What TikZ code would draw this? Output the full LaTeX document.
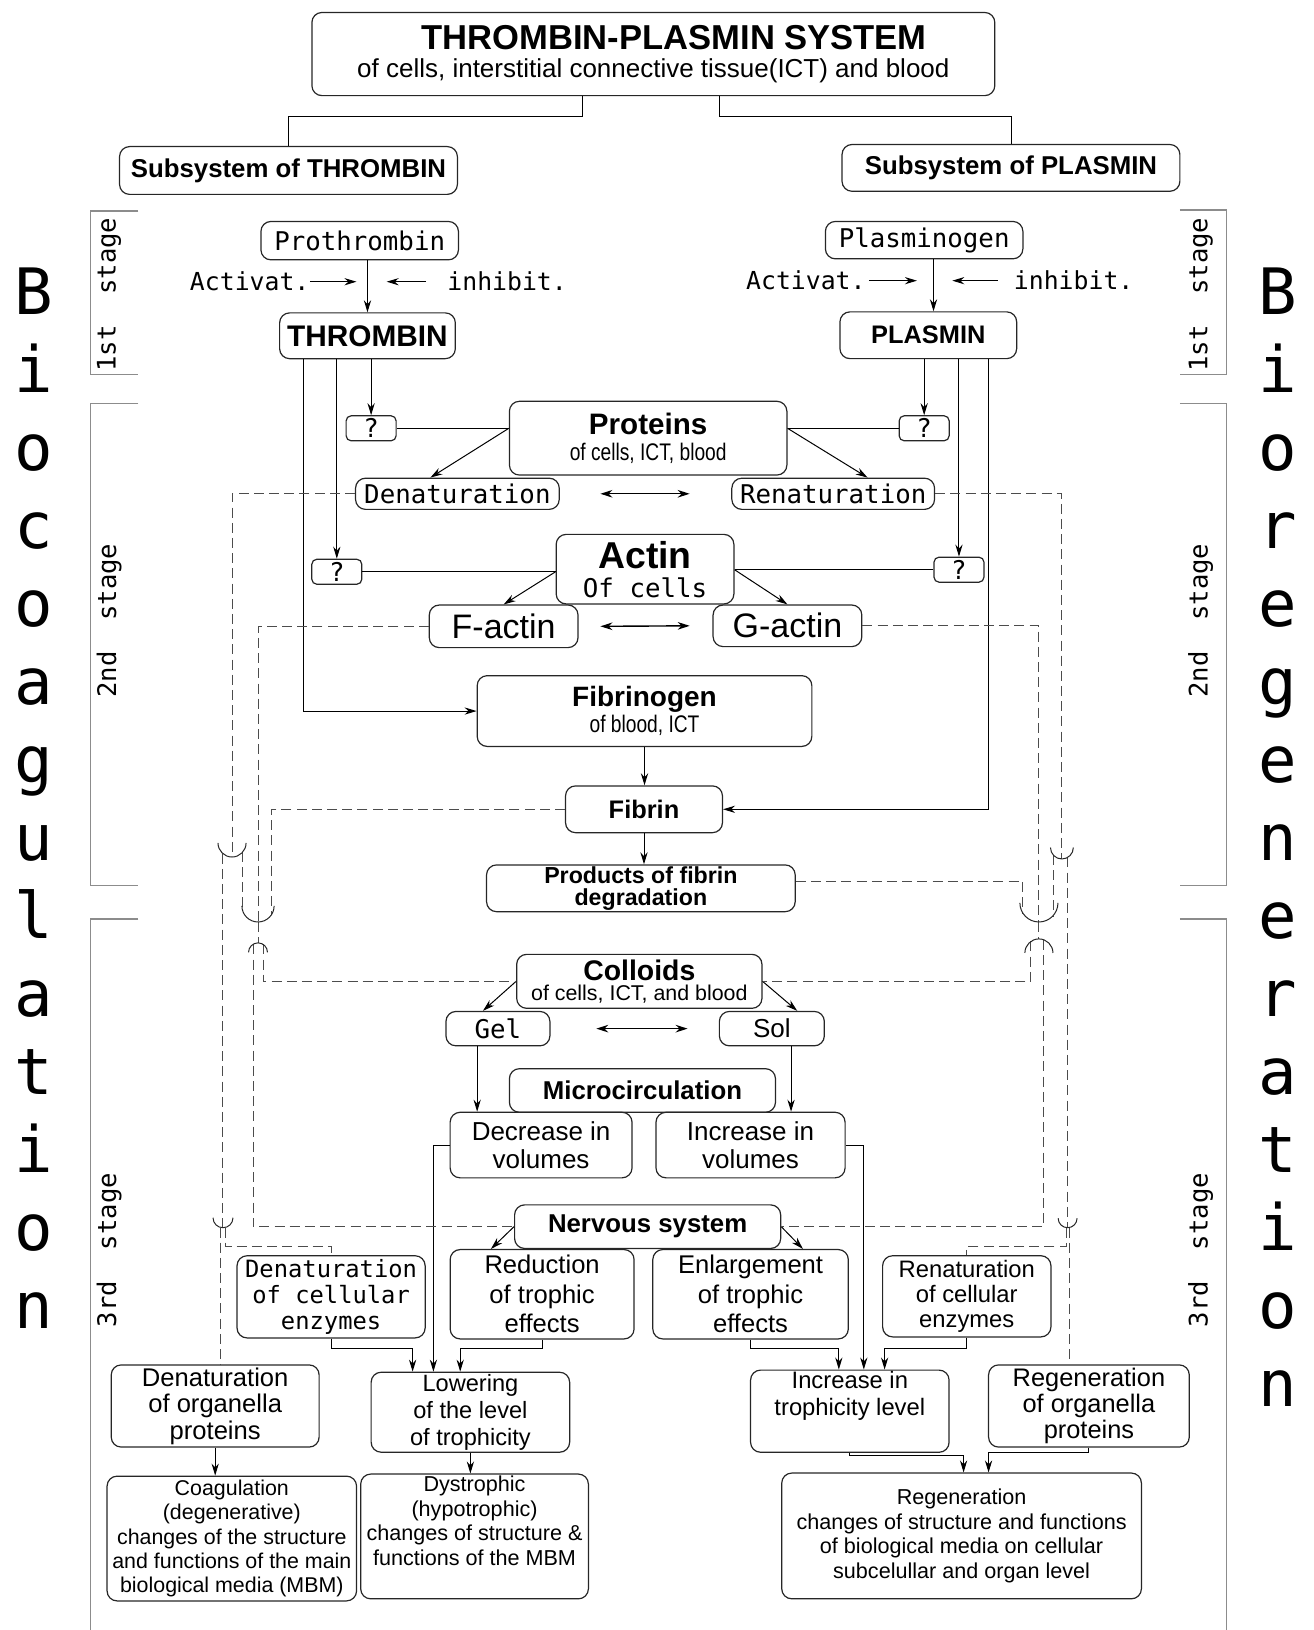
\documentclass[tikz,border=0pt]{standalone}
\usepackage{fontspec}
\setmainfont{Liberation Sans}
\newfontfamily\monofont{DejaVu Sans Mono}
\newfontfamily\narrowfont[FakeStretch=0.8]{Liberation Sans}
\usepackage{xcolor}
\usetikzlibrary{arrows.meta,calc}
\newcommand{\setfs}[2]{\fontsize{#1}{#2}\selectfont}

\begin{document}
\begin{tikzpicture}[x=0.52pt,y=-0.52pt]
  \tikzset{
    box/.style={
      draw=black!85,
      line width=0.6pt,
      rounded corners=5pt,
      align=center,
      inner sep=0pt,
    },
    qbox/.style={box, rounded corners=2.5pt, minimum width=25pt, minimum height=12.5pt,
      font=\monofont\setfs{12.9}{14}},
    sz/.style 2 args={minimum width=#1, minimum height=#2},
    mono/.style={font=\monofont\setfs{12.9}{14}, inner sep=0pt},
    arr/.style={-{Stealth[length=6pt,width=3.6pt]}, line width=0.5pt},
    dbl/.style={{Stealth[length=6pt,width=3.8pt]}-{Stealth[length=6pt,width=3.8pt]}, line width=0.7pt},
    dashline/.style={draw=black!70, line width=0.5pt, dash pattern=on 5pt off 2.6pt},
    cup/.style={draw=black!85, line width=0.5pt},
    bracket/.style={draw=black!45, line width=0.6pt},
    stagetext/.style={font=\monofont\setfs{12.8}{14}, rotate=90, inner sep=0pt},
    bigletter/.style={font=\monofont\setfs{32}{32}, anchor=base, inner sep=0pt},
  }

  \useasboundingbox (0,0) rectangle (1264,1568);

  % head of the scheme
  \node[box, sz={341.6pt}{41.6pt}, font=\setfs{13}{14}] (sys) at (628.5,52)
    {\hspace*{20.8pt}{\bfseries\setfs{17.3}{18}THROMBIN-PLASMIN SYSTEM}\\of cells, interstitial connective tissue(ICT) and blood};
  \node[box, sz={169pt}{23.9pt}, font=\bfseries\setfs{12.9}{14}] (subT) at (277.5,164) {Subsystem of THROMBIN};
  \node[box, sz={169pt}{23.4pt}, font=\bfseries\setfs{12.9}{14}] (subP) at (972.5,161.5) {Subsystem of PLASMIN};
  \draw ([xshift=-35.6pt]sys.south) -- ++(0,19) -| (subT.north);
  \draw ([xshift=33pt]sys.south) -- ++(0,19) -| (subP.north);

  % 1st stage
  \node[box, mono, sz={98.8pt}{19.2pt}] (proT) at (346,231.5) {Prothrombin};
  \node[box, sz={87.9pt}{22.9pt}, font=\bfseries\setfs{14.9}{16}] (thr) at (353.5,323) {THROMBIN};
  \node[mono, font=\monofont\setfs{12.4}{14}, anchor=east] (actT) at (298,271) {Activat.};
  \node[mono, font=\monofont\setfs{12.4}{14}, anchor=west] (inhT) at (430,271) {inhibit.};
  \draw[arr] (thr.north |- proT.south) -- (thr.north);
  \draw[arr] (actT.east) -- ([xshift=-5.5pt]thr.north |- actT.east);
  \draw[arr] ([xshift=-10.4pt]inhT.west) -- ([xshift=9.6pt]thr.north |- inhT.west);

  \node[box, mono, sz={98.8pt}{18.7pt}] (plg) at (889,231) {Plasminogen};
  \node[box, sz={88.4pt}{23.4pt}, font=\bfseries\setfs{12.7}{14}] (pla) at (893,322.5) {PLASMIN};
  \node[mono, font=\monofont\setfs{12.4}{14}, anchor=east] (actP) at (833,270) {Activat.};
  \node[mono, font=\monofont\setfs{12.4}{14}, anchor=west] (inhP) at (975,270) {inhibit.};
  \draw[arr] ([xshift=2.6pt]pla.north |- plg.south) -- ([xshift=2.6pt]pla.north);
  \draw[arr] ([xshift=1.5pt]actP.east) -- ([xshift=-5.7pt]pla.north |- actP.east);
  \draw[arr] ([xshift=-7.8pt]inhP.west) -- ([xshift=12pt]pla.north |- inhP.west);

  % 2nd stage
  \node[qbox] (q1) at (357,412) {?};
  \node[qbox] (q2) at (889,412) {?};
  \node[box, sz={138.8pt}{36.9pt}, font=\narrowfont\setfs{12}{13}] (prot) at (623.5,421.5)
    {{\rmfamily\bfseries\setfs{14.8}{15}Proteins}\\of cells, ICT, blood};
  \node[box, mono, sz={101.9pt}{15.6pt}] (den) at (440,475) {Denaturation};
  \node[box, mono, sz={101.4pt}{15.6pt}] (ren) at (801.5,475) {Renaturation};
  \node[qbox] (q3) at (324,550) {?};
  \node[qbox] (q4) at (922.5,548) {?};
  \node[box, mono, sz={88.9pt}{34.8pt}, font=\monofont\setfs{12.9}{14.5}] (act) at (620.5,547.5)
    {{\rmfamily\bfseries\setfs{18.7}{19}Actin}\\Of cells};
  \node[box, sz={74.4pt}{21.3pt}, font=\setfs{17}{18}] (fact) at (484.5,602.5) {F-actin};
  \node[box, sz={74.4pt}{20.8pt}, font=\setfs{17}{18}] (gact) at (757.5,602) {G-actin};
  \node[box, sz={167.4pt}{35.4pt}, font=\narrowfont\setfs{12}{13}] (fbg) at (620,684)
    {{\rmfamily\bfseries\setfs{14}{15}Fibrinogen}\\of blood, ICT};
  \node[box, sz={78.5pt}{23.4pt}, font=\bfseries\setfs{12.7}{14}] (fib) at (619.5,778.5) {Fibrin};
  \node[box, sz={154.4pt}{23.4pt}, font=\bfseries\setfs{11.6}{11.2}] (pfd) at (616.5,854.5)
    {Products of fibrin\\degradation};

  \draw[arr] (q1.north |- thr.south) -- (q1.north);
  \draw[arr] (q3.north |- thr.south) -- (q3.north);
  \draw[arr] ([xshift=-32pt]thr.south) |- (fbg.west);
  \draw[arr] (q2.north |- pla.south) -- (q2.north);
  \draw[arr] (q4.north |- pla.south) -- (q4.north);
  \draw[arr] ([xshift=30.2pt]pla.south) |- (fib.east);

  \draw (q1.east) -- (q1.east -| prot.west);
  \draw (q2.west) -- (q2.west -| prot.east);
  \draw[arr] (q1.east -| prot.west) -- ([xshift=-13.5pt]den.north);
  \draw[arr] (q2.west -| prot.east) -- ([xshift=17.2pt]ren.north);
  \draw[dbl] ([xshift=20.3pt]den.east) -- ([xshift=-20.8pt]ren.west);

  \draw (q3.east) -- (q3.east -| act.west);
  \draw (q4.west) -- (q4.west -| act.east);
  \draw[arr] (q3.east -| act.west) -- (fact.north);
  \draw[arr] (q4.west -| act.east) -- (gact.north);
  \draw[dbl] ([xshift=10.9pt]fact.east) -- ([xshift=-11.4pt]gact.west);

  \draw[arr] (fbg.south) -- (fbg.south |- fib.north);
  \draw[arr] (fib.south) -- (fib.south |- pfd.north);

  % 3rd stage
  \node[box, sz={122.7pt}{27pt}, font=\setfs{10.7}{10}] (col) at (615,944)
    {{\bfseries\setfs{14.2}{15}Colloids}\\of cells, ICT, and blood};
  \node[box, mono, sz={52pt}{17.2pt}] (gel) at (479,989.5) {Gel};
  \node[box, sz={52.5pt}{17.2pt}, font=\setfs{13}{14}] (sol) at (742.5,989.5) {Sol};
  \node[box, sz={133.1pt}{21.8pt}, font=\bfseries\setfs{12.9}{14}] (mic) at (618,1049) {Microcirculation};
  \node[box, sz={91pt}{32.8pt}, font=\setfs{13}{14}] (dec) at (520.5,1101.5) {Decrease in\\volumes};
  \node[box, sz={94.6pt}{32.8pt}, font=\setfs{13}{14}] (inc) at (722,1101.5) {Increase in\\volumes};
  \node[box, sz={133.1pt}{21.8pt}, font=\bfseries\setfs{12.9}{14}] (ner) at (623,1180) {Nervous system};
  \node[box, sz={94.1pt}{41.1pt}, font=\monofont\setfs{11.9}{13}] (dce) at (318.5,1247.5)
    {Denaturation\\of cellular\\enzymes};
  \node[box, sz={92pt}{44.7pt}, font=\setfs{12.8}{14.8}] (red) at (521.5,1245) {Reduction\\of trophic\\effects};
  \node[box, sz={97.8pt}{44.7pt}, font=\setfs{12.8}{14.8}] (enl) at (722,1245) {Enlargement\\of trophic\\effects};
  \node[box, sz={84.2pt}{40.6pt}, font=\setfs{11.9}{12.5}] (rce) at (930,1247) {Renaturation\\of cellular\\enzymes};
  \node[box, sz={104pt}{41.1pt}, font=\setfs{12.8}{13.3}] (dop) at (207,1352.5) {Denaturation\\of organella\\proteins};
  \node[box, sz={99.3pt}{40pt}, font=\setfs{11.8}{13.5}] (low) at (452.5,1358.5) {Lowering\\of the level\\of trophicity};
  \node[box, sz={99.3pt}{41.1pt}, font=\setfs{11.9}{13.5}] (itl) at (817.5,1357.5) {Increase in\\trophicity level\\\strut};
  \node[box, sz={100.4pt}{41.1pt}, font=\setfs{12.7}{13}] (rop) at (1047.5,1352.5) {Regeneration\\of organella\\proteins};
  \node[box, sz={124.8pt}{62.4pt}, font=\setfs{10.7}{12.1}] (coa) at (223,1480)
    {Coagulation\\(degenerative)\\changes of the structure\\and functions of the main\\biological media (MBM)};
  \node[box, sz={113.9pt}{62.4pt}, font=\setfs{10.8}{12.2}] (dys) at (456.5,1478)
    {Dystrophic\\(hypotrophic)\\changes of structure \&\\functions of the MBM\\\strut};
  \node[box, sz={179.9pt}{62.9pt}, font=\setfs{10.8}{12.2}] (reg) at (925,1477.5)
    {Regeneration\\changes of structure and functions\\of biological media on cellular\\subcelullar and organ level};

  \draw[arr] (col.west) -- ([xshift=-7.5pt]gel.north);
  \draw[arr] (col.east) -- ([xshift=12.7pt]sol.north);
  \draw[dbl] ([xshift=22.9pt]gel.east) -- ([xshift=-15.6pt]sol.west);
  \draw[arr] ([xshift=-10.4pt]gel.south) -- ([xshift=-10.4pt]gel.south |- dec.north);
  \draw[arr] ([xshift=9.6pt]sol.south) -- ([xshift=9.6pt]sol.south |- inc.north);
  \draw[arr] (dec.west) -| ([xshift=-18.5pt]low.north);
  \draw[arr] (inc.east) -| ([xshift=7pt]itl.north);
  \draw[arr] (ner.west) -- ([xshift=-25.6pt]red.north);
  \draw[arr] (ner.east) -- ([xshift=26.2pt]enl.north);
  \draw[arr] (dce.south) -- ++(0,10) -| ([xshift=-28.9pt]low.north);
  \draw[arr] (red.south) -- ++(0,9) -| ([xshift=-5.1pt]low.north);
  \draw[arr] (enl.south) -- ++(0,9) -| ([xshift=-5.5pt]itl.north);
  \draw[arr] (rce.south) -- ++(0,11) -| ([xshift=17.4pt]itl.north);
  \draw[arr] (dop.south) -- (dop.south |- coa.north);
  \draw[arr] (low.south) -- (low.south |- dys.north);
  \draw[arr] (itl.south) -- ++(0,3) -| ([xshift=1pt]reg.north);
  \draw[arr] (rop.south) -- ++(0,5) -| ([xshift=13.5pt]reg.north);

  % dashed feedback, left side
  \coordinate (c1b) at (223.2,824.4);
  \coordinate (c1o) at (214.5,821.2);
  \coordinate (c1i) at (233.7,819.4);
  \coordinate (c2b) at (248.2,886.9);
  \coordinate (c2l) at (233.7,876.9);
  \coordinate (c2r) at (261.6,879.2);
  \coordinate (c3t) at (248.2,907);
  \coordinate (c3l) at (243.4,908.4);
  \coordinate (c3r) at (253,908.4);
  \coordinate (c4b) at (214.5,1181);
  \coordinate (c4l) at (212.5,1180.8);
  \coordinate (c4r) at (216.5,1180.8);

  \draw[dashline] (den.west) -| (c1b);
  \draw[dashline] (fact.west) -| (c2b);
  \draw[dashline] (fib.west) -| (c2r);
  \draw[dashline] (c1o) -- (c4b);
  \draw[dashline] (c1i) -- (c2l);
  \draw[dashline] (c2b) -- (c3t);
  \draw[dashline] (c3r) |- (col.west);
  \draw[dashline] (c3l) |- (ner.west);
  \draw[dashline] (c4l) -- (c4l |- dop.north);
  \draw[dashline] (c4r) -- ++(0,18) -| (dce.north);

  \draw[cup] (209.7,810.9) arc[start angle=180,end angle=360,radius=7.02pt];
  \draw[cup] (232.7,871.4) arc[start angle=180,end angle=360,radius=8.06pt];
  \draw[cup] (239.1,916.1) arc[start angle=180,end angle=0,radius=4.73pt];
  \draw[cup] (204.9,1171.4) arc[start angle=180,end angle=360,radius=5pt];

  % dashed feedback, right side
  \coordinate (cAb) at (1021.5,826.3);
  \coordinate (cAo) at (1027,824.8);
  \coordinate (cAi) at (1013,822.3);
  \coordinate (cBb) at (999.4,886.9);
  \coordinate (cBl) at (984,878.5);
  \coordinate (cBr) at (1013,880.8);
  \coordinate (cCt) at (999.4,903.2);
  \coordinate (cCl) at (991.7,905.6);
  \coordinate (cCr) at (1004.2,904.1);
  \coordinate (c5b) at (1027,1181);
  \coordinate (c5l) at (1025.5,1180.9);
  \coordinate (c5r) at (1028.5,1180.9);

  \draw[dashline] (ren.east) -| (cAb);
  \draw[dashline] (gact.east) -| (cBb);
  \draw[dashline] ([yshift=3.4pt]pfd.east) -| (cBl);
  \draw[dashline] (cAo) -- (c5b);
  \draw[dashline] (cAi) -- (cBr);
  \draw[dashline] (cBb) -- (cCt);
  \draw[dashline] (cCl) |- (col.east);
  \draw[dashline] (cCr) |- (ner.east);
  \draw[dashline] (c5r) -- (c5r |- rop.north);
  \draw[dashline] (c5l) -- ++(0,18) -| (rce.north);

  \draw[cup] (1010.5,815.3) arc[start angle=180,end angle=360,radius=5.72pt];
  \draw[cup] (981.1,868.6) arc[start angle=180,end angle=360,radius=9.52pt];
  \draw[cup] (985.9,916.7) arc[start angle=180,end angle=0,radius=7.02pt];
  \draw[cup] (1017.9,1171.9) arc[start angle=180,end angle=360,radius=4.73pt];

  % stage brackets
  \draw[bracket] (133,203) -| (87,360) -- (133,360);
  \draw[bracket] (133,388) -| (87,852) -- (133,852);
  \draw[bracket] (133,884) -| (87,1568);
  \draw[bracket] (1135,202) -| (1180,360) -- (1135,360);
  \draw[bracket] (1135,388) -| (1180,852) -- (1135,852);
  \draw[bracket] (1135,884) -| (1180,1568);

  \node[stagetext] (st1L) at (105,283.5) {1st\ \ stage};
  \node[stagetext] (st2L) at (105,597) {2nd\ \ stage};
  \node[stagetext] (st3L) at (105,1202.5) {3rd\ \ stage};
  \node[stagetext] (st1R) at (1155,283.5) {1st\ \ stage};
  \node[stagetext] (st2R) at (1155,597) {2nd\ \ stage};
  \node[stagetext] (st3R) at (1155,1202.5) {3rd\ \ stage};

  % vertical words
  \foreach \ch [count=\k from 0] in {B,i,o,c,o,a,g,u,l,a,t,i,o,n}
    \node[bigletter] (bl\k) at (32,303+75*\k) {\ch};
  \foreach \ch [count=\k from 0] in {B,i,o,r,e,g,e,n,e,r,a,t,i,o,n}
    \node[bigletter] (br\k) at (1229,303+75*\k) {\ch};
\end{tikzpicture}
\end{document}
